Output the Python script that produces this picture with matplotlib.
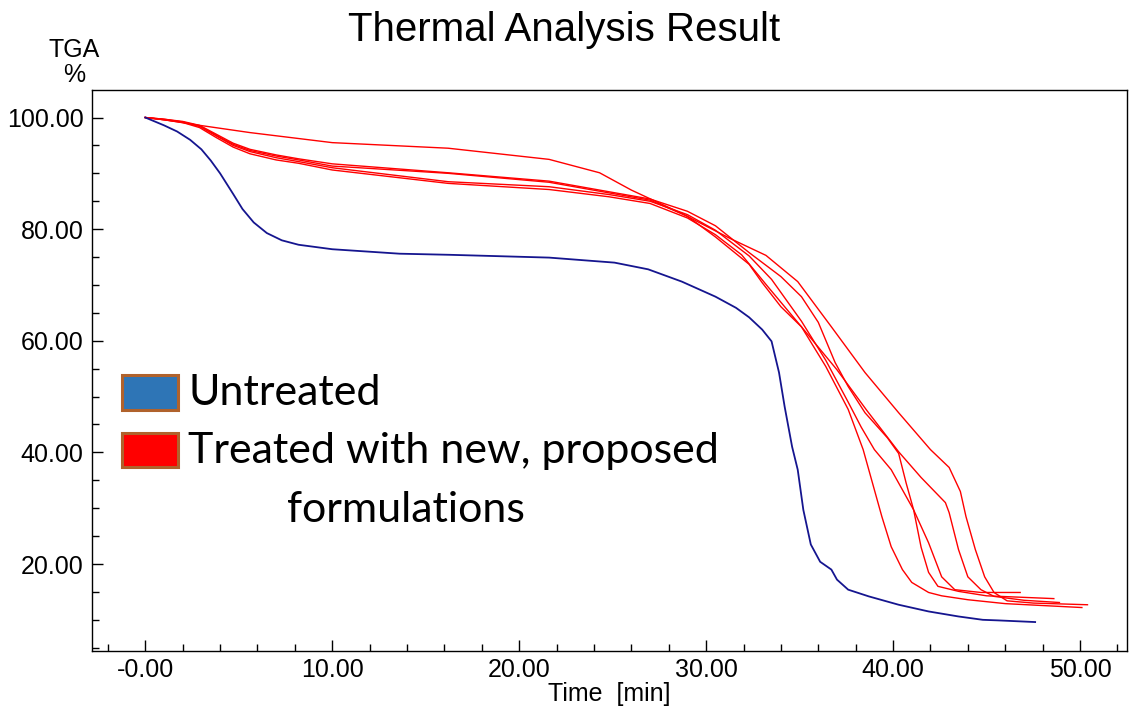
import matplotlib.pyplot as plt
from matplotlib.patches import Rectangle
from matplotlib.ticker import MultipleLocator, FixedLocator, FixedFormatter

plt.rcParams["font.family"] = ["Liberation Sans", "DejaVu Sans"]

# Untreated sample (blue)
t_untreated = [0, 1.0, 1.7, 2.4, 3.0, 3.5, 4.0, 4.7, 5.2, 5.8, 6.5, 7.3, 8.2, 10.0, 13.6, 16.3, 21.6,
               25.1, 26.9, 28.7, 30.5, 31.6, 32.3, 33.0, 33.5, 33.9, 34.2, 34.6, 34.9, 35.2, 35.6,
               36.1, 36.7, 37.0, 37.6, 38.7, 40.3, 41.9, 43.5, 44.8, 45.6, 47.6]
w_untreated = [100, 98.6, 97.5, 96.0, 94.3, 92.3, 90.0, 86.3, 83.6, 81.2, 79.3, 78.0, 77.2, 76.4, 75.6, 75.4, 74.9,
               74.0, 72.8, 70.6, 67.9, 65.9, 64.2, 62.0, 59.9, 54.3, 48.2, 41.0, 36.9, 29.7, 23.5,
               20.4, 19.0, 17.2, 15.4, 14.2, 12.7, 11.5, 10.6, 10.0, 9.9, 9.6]

# Treated samples (red), five runs
t_a = [0, 1, 2.0, 2.9, 3.8, 4.7, 5.6, 7.0, 8.2, 10, 16.2, 21.6, 24.8, 27, 29, 30.5, 31.9, 33.3,
       35.1, 36.4, 37.6, 38.4, 38.9, 39.4, 39.9, 40.5, 41.0, 41.9, 42.6, 44, 46, 50.1]
w_a = [100, 99.6, 99.1, 98.2, 96.4, 94.7, 93.5, 92.4, 91.8, 90.6, 88.2, 87.1, 85.8, 84.6, 82.0, 79.0, 75.4, 69.7,
       62.5, 55.4, 47.7, 40.5, 34.5, 28.5, 23.1, 19.0, 16.7, 14.9, 14.3, 13.6, 12.9, 12.2]

t_b = [0, 1, 2.0, 2.9, 3.8, 4.7, 5.6, 7.0, 8.2, 10, 16.2, 21.6, 24.8, 27, 29, 30.5, 32.3, 33.5,
       35.1, 36.4, 37.6, 38.3, 39.0, 39.9, 41.1, 41.9, 42.6, 43.3, 44.7, 46.8]
w_b = [100, 99.6, 99.2, 98.4, 96.7, 95.0, 93.9, 92.8, 92.1, 91.0, 88.5, 87.6, 86.2, 85.0, 82.6, 79.8, 75.2, 71.0,
       63.5, 56.5, 49.0, 44.5, 40.5, 36.9, 29.7, 23.8, 17.7, 15.4, 14.9, 14.9]

t_c = [0, 1, 2.0, 2.9, 3.8, 4.7, 5.6, 7.0, 8.2, 10, 16.2, 21.6, 24.8, 27, 29, 30.5, 32.3, 34,
       35.1, 36.0, 36.9, 37.6, 38.5, 39.7, 40.3, 40.7, 41.1, 41.5, 41.9, 42.4, 43.5, 45, 48.6]
w_c = [100, 99.7, 99.3, 98.6, 97.0, 95.4, 94.3, 93.3, 92.6, 91.7, 90.1, 88.6, 86.7, 85.4, 83.2, 80.6, 75.8, 71.5,
       67.9, 63.3, 56.1, 51.8, 47.1, 42.6, 39.8, 34.5, 29.7, 23.0, 18.5, 16.0, 15.1, 14.3, 13.8]

t_d = [0, 1, 2.0, 2.9, 3.8, 4.7, 5.6, 7.0, 8.2, 10, 16.2, 21.6, 24.8, 27, 29, 30.5, 32.3, 33.0,
       34.0, 35.1, 37.0, 38.6, 40.3, 41.5, 42.8, 43.0, 43.5, 44.0, 44.7, 45.4, 47, 48.9]
w_d = [100, 99.7, 99.2, 98.5, 96.8, 95.2, 94.1, 93.1, 92.4, 91.3, 90.0, 88.4, 86.5, 85.2, 82.3, 78.6, 73.7, 70.4,
       66.1, 62.5, 54.8, 47.5, 40.1, 35.5, 31.0, 29.2, 22.6, 17.7, 15.4, 14.2, 13.5, 13.1]

t_e = [0, 1, 2.7, 5.6, 10, 16.2, 21.6, 24.3, 26.0, 28.7, 31.3, 33.2, 34.9, 36.7, 38.5, 40.3,
       42.0, 43.0, 43.6, 43.9, 44.4, 44.9, 45.4, 46.1, 47.5, 50.4]
w_e = [100, 99.6, 98.7, 97.3, 95.5, 94.5, 92.5, 90.1, 87.0, 82.8, 78.3, 75.3, 70.6, 62.5, 54.3, 47.1,
       40.5, 37.3, 33.0, 28.5, 22.6, 17.7, 14.9, 13.4, 13.0, 12.7]

treated = [(t_a, w_a), (t_b, w_b), (t_c, w_c), (t_d, w_d), (t_e, w_e)]

x_ticks = [0, 10, 20, 30, 40, 50]
x_labels = ["-0.00", "10.00", "20.00", "30.00", "40.00", "50.00"]
y_ticks = [20, 40, 60, 80, 100]
y_labels = ["20.00", "40.00", "60.00", "80.00", "100.00"]

fig = plt.figure(figsize=(11.29, 7.10), dpi=100)
ax = fig.add_axes([0.0815, 0.083, 0.9165, 0.790])

for t, w in treated:
    ax.plot(t, w, color="#ff0000", lw=1.0)
ax.plot(t_untreated, w_untreated, color="#15158f", lw=1.3)

ax.set_xlim(-2.85, 52.5)
ax.set_ylim(4.4, 104.9)

ax.xaxis.set_major_locator(FixedLocator(x_ticks))
ax.xaxis.set_major_formatter(FixedFormatter(x_labels))
ax.xaxis.set_minor_locator(MultipleLocator(2))
ax.yaxis.set_major_locator(FixedLocator(y_ticks))
ax.yaxis.set_major_formatter(FixedFormatter(y_labels))
ax.yaxis.set_minor_locator(MultipleLocator(5))
ax.tick_params(which="both", direction="in", labelsize=18, width=1)
ax.tick_params(which="major", length=8)
ax.tick_params(which="minor", length=5)
ax.tick_params(axis="x", pad=5)
ax.tick_params(axis="y", pad=6)
for spine in ax.spines.values():
    spine.set_linewidth(1)

ax.set_xlabel("Time  [min]", fontsize=18, labelpad=0)
fig.text(0.066, 0.912, "TGA\n%", fontsize=18, ha="center", va="center",
         multialignment="center", linespacing=1.05)
fig.suptitle("Thermal Analysis Result", fontsize=29, y=0.985)

# legend drawn by hand
leg_font = "Lato"
fig.patches.append(Rectangle((122 / 1129, 1 - 410 / 710), 56 / 1129, 35 / 710,
                             transform=fig.transFigure, facecolor="#2e75b6",
                             edgecolor="#b0622c", lw=2.2))
fig.patches.append(Rectangle((122 / 1129, 1 - 467 / 710), 56 / 1129, 34 / 710,
                             transform=fig.transFigure, facecolor="#ff0000",
                             edgecolor="#b0622c", lw=2.2))
fig.text(188 / 1129, 1 - 393 / 710, "Untreated", fontsize=31, family=leg_font, va="center")
fig.text(188 / 1129, 1 - 451 / 710, "Treated with new, proposed", fontsize=31,
         family=leg_font, va="center")
fig.text(406 / 1129, 1 - 510 / 710, "formulations", fontsize=31, family=leg_font,
         va="center", ha="center")

fig.savefig("out.png", dpi=100)
